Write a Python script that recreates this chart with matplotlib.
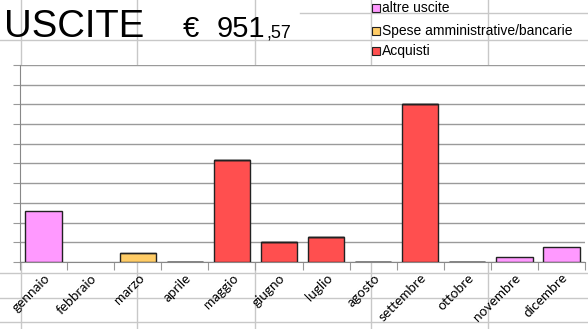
import matplotlib
matplotlib.use("Agg")
import matplotlib.pyplot as plt
import numpy as np
from matplotlib.lines import Line2D
from matplotlib.patches import Rectangle

# data
mesi = ['gennaio', 'febbraio', 'marzo', 'aprile', 'maggio', 'giugno',
        'luglio', 'agosto', 'settembre', 'ottobre', 'novembre', 'dicembre']
acquisti = [0, 0, 0, 1.2, 250, 49.3, 61, 1.2, 390.2, 1.2, 0, 0]
spese = [0, 0, 21.5, 0, 0, 0, 0, 0, 0, 0, 0, 0]
altre = [126.6, 0, 0, 0, 0, 0, 0, 0, 0, 0, 11.57, 37.8]
serie = ['altre uscite', 'Spese amministrative/bancarie', 'Acquisti']
colori = ['#ff99ff', '#ffcc66', '#ff4f4f']

W, H = 588, 329
fig = plt.figure(figsize=(W / 100, H / 100), dpi=100)


def px(x, y):
    return x / W, 1 - y / H


# spreadsheet cell grid behind the chart (only outside the plot area)
cell = '#c8c8c8'
for y, x0, x1 in [(13, 300, W), (40, 0, W), (273, 0, W), (298, 0, W), (322, 0, W)]:
    a, b = px(x0, y), px(x1, y)
    fig.add_artist(Line2D([a[0], b[0]], [a[1], b[1]], color=cell, lw=1, zorder=0))
for xc in [21, 137, 255, 371, 488]:
    for y0, y1 in [(0, 64), (263, H)]:
        a, b = px(xc, y0), px(xc, y1)
        fig.add_artist(Line2D([a[0], b[0]], [a[1], b[1]], color=cell, lw=1, zorder=0))

ax = fig.add_axes([20 / W, 67 / H, 565 / W, 197 / H])
ax.set_zorder(1)
ax.set_facecolor('white')

x = np.arange(len(mesi))
acq = np.array(acquisti)
sp = np.array(spese)
alt = np.array(altre)
kw = dict(width=0.77, edgecolor='#222222', linewidth=1, zorder=3)
base = np.zeros(len(mesi))
for vals, col in [(acq, colori[2]), (sp, colori[1]), (alt, colori[0])]:
    show = (vals > 0) | (base > 0)
    ax.bar(x[show], vals[show], bottom=base[show], color=col, **kw)
    base = base + vals

ymax = 485
ax.set_ylim(0, ymax)
ax.set_xlim(-0.5, len(mesi) - 0.5)
ax.set_yticks(np.linspace(0, ymax, 11))
ax.set_yticklabels([])
ax.yaxis.grid(True, color='#9a9a9a', lw=1, zorder=0)
ax.set_axisbelow(True)
ax.tick_params(axis='y', length=5, color='#999999', direction='out')

ax.set_xticks(np.arange(len(mesi) + 1) - 0.5, minor=False)
ax.set_xticklabels([])
ax.tick_params(axis='x', which='major', length=6, color='#999999', direction='out')
ax.set_xticks(x, minor=True)
ax.set_xticklabels(mesi, minor=True, rotation=45, ha='right', rotation_mode='anchor',
                   fontsize=9.8, family=['Lato', 'DejaVu Sans'])
ax.tick_params(axis='x', which='minor', length=0, pad=7)

for s in ['top', 'right']:
    ax.spines[s].set_visible(False)
for s in ['left', 'bottom']:
    ax.spines[s].set_color('#888888')

# title and total
totale = acq.sum() + sp.sum() + alt.sum()
intero, dec = f"{totale:.2f}".split('.')
fig.text(*px(4, 37), 'USCITE', fontsize=27.5, family='Liberation Sans', va='baseline')
fig.text(*px(183, 37), '€', fontsize=21, family='Liberation Sans', va='baseline')
fig.text(*px(217, 37), intero, fontsize=21, family='Liberation Sans', va='baseline')
fig.text(*px(266, 37), ',' + dec, fontsize=13, family='Liberation Sans', va='baseline')

# legend drawn by hand, rows are not evenly spaced in the original
for nome, col, yc in zip(serie, colori, [8, 31, 51]):
    x0, y0 = px(372, yc + 4)
    fig.add_artist(Rectangle((x0, y0), 8 / W, 8 / H, transform=fig.transFigure,
                             facecolor=col, edgecolor='#222222', lw=0.8, zorder=2))
    fig.text(*px(382, yc), nome, fontsize=10, va='center',
             family=['Liberation Sans Narrow', 'Liberation Sans'])

fig.savefig('out.png', dpi=100)
